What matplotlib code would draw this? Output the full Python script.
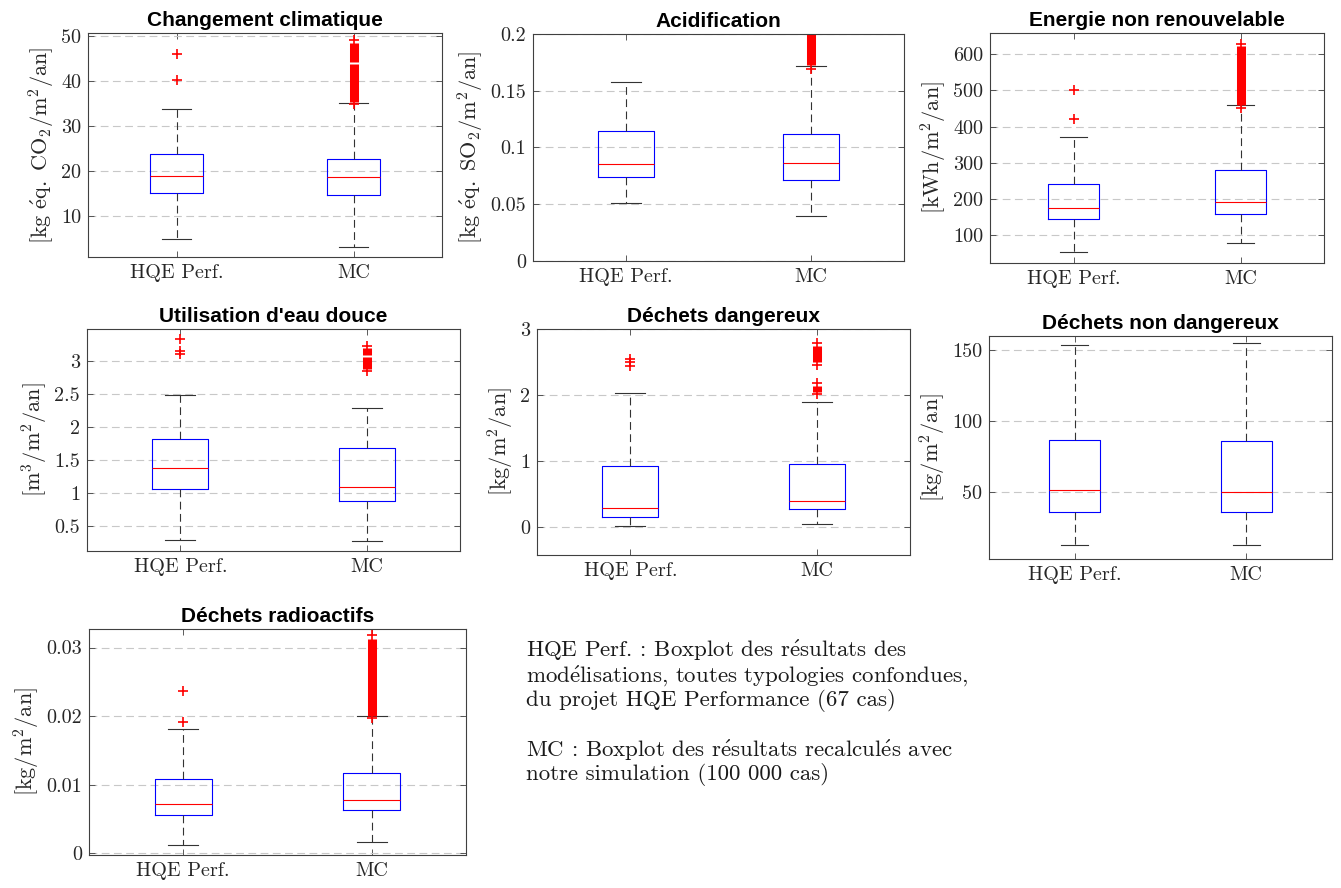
import numpy as np
import matplotlib as mpl
mpl.use('Agg')
import matplotlib.pyplot as plt
from matplotlib.ticker import FuncFormatter

plt.rcParams['font.family'] = 'cmr10'
plt.rcParams['mathtext.fontset'] = 'cm'
plt.rcParams['axes.unicode_minus'] = False

groups = ['HQE Perf.', 'MC']

# stats: whislo, q1, median, q3, whishi
cc_hqe = [4.8, 15.2, 19.0, 23.8, 33.8]
cc_mc = [3.1, 14.6, 18.6, 22.7, 35.1]
cc_hqe_out = [40.3, 46.1]
cc_mc_out = [34.9, 49.1]
cc_mc_bands = [(35.3, 43.7), (44.3, 48.4)]

acid_hqe = [0.0509, 0.0739, 0.0859, 0.1141, 0.1577]
acid_mc = [0.0394, 0.0712, 0.0862, 0.1115, 0.1718]
acid_hqe_out = []
acid_mc_out = [0.1695]
acid_mc_bands = [(0.1725, 0.205)]

enr_hqe = [53, 144, 175.5, 241.7, 372]
enr_mc = [80, 159.8, 192.1, 279.2, 459.5]
enr_hqe_out = [421.7, 500.9]
enr_mc_out = [452, 629]
enr_mc_bands = [(460, 621)]

eau_hqe = [0.282, 1.06, 1.377, 1.816, 2.48]
eau_mc = [0.273, 0.883, 1.095, 1.674, 2.29]
eau_hqe_out = [3.10, 3.15, 3.33]
eau_mc_out = [2.84, 3.22]
eau_mc_bands = [(2.87, 3.05), (3.08, 3.19)]

dd_hqe = [0.015, 0.156, 0.288, 0.924, 2.03]
dd_mc = [0.045, 0.273, 0.398, 0.96, 1.90]
dd_hqe_out = [2.44, 2.50, 2.54]
dd_mc_out = [2.01, 2.18, 2.46, 2.79]
dd_mc_bands = [(2.04, 2.13), (2.50, 2.74)]

dnd_hqe = [12.6, 35.4, 51.2, 86.9, 153.5]
dnd_mc = [12.4, 35.9, 50.0, 85.8, 155.2]
dnd_hqe_out = []
dnd_mc_out = []
dnd_mc_bands = []

rad_hqe = [0.00117, 0.00554, 0.00719, 0.01079, 0.01808]
rad_mc = [0.0016, 0.00632, 0.00773, 0.01176, 0.01998]
rad_hqe_out = [0.0191, 0.02367]
rad_mc_out = [0.0197, 0.0318]
rad_mc_bands = [(0.0200, 0.0313)]

titles = ['Changement climatique', 'Acidification', 'Energie non renouvelable',
          "Utilisation d'eau douce", 'Déchets dangereux', 'Déchets non dangereux',
          'Déchets radioactifs']
ylabels = [r'$\mathrm{[kg\ \acute{e}q.\ CO_2/m^2/an]}$',
           r'$\mathrm{[kg\ \acute{e}q.\ SO_2/m^2/an]}$',
           r'$\mathrm{[kWh/m^2/an]}$',
           r'$\mathrm{[m^3/m^2/an]}$',
           r'$\mathrm{[kg/m^2/an]}$',
           r'$\mathrm{[kg/m^2/an]}$',
           r'$\mathrm{[kg/m^2/an]}$']
yticks = [[10, 20, 30, 40, 50],
          [0, 0.05, 0.1, 0.15, 0.2],
          [100, 200, 300, 400, 500, 600],
          [0.5, 1, 1.5, 2, 2.5, 3],
          [0, 1, 2, 3],
          [50, 100, 150],
          [0, 0.01, 0.02, 0.03]]
ylims = [(0.9, 50.7), (0, 0.2), (24, 658), (0.12, 3.48), (-0.42, 3.0),
         (2.5, 160), (-0.00025, 0.0327)]

note_hqe = ("HQE Perf. : Boxplot des résultats des\n"
            "modélisations, toutes typologies confondues,\n"
            "du projet HQE Performance (67 cas)")
note_mc = ("MC : Boxplot des résultats recalculés avec\n"
           "notre simulation (100 000 cas)")

data = [(cc_hqe, cc_mc, cc_hqe_out, cc_mc_out, cc_mc_bands),
        (acid_hqe, acid_mc, acid_hqe_out, acid_mc_out, acid_mc_bands),
        (enr_hqe, enr_mc, enr_hqe_out, enr_mc_out, enr_mc_bands),
        (eau_hqe, eau_mc, eau_hqe_out, eau_mc_out, eau_mc_bands),
        (dd_hqe, dd_mc, dd_hqe_out, dd_mc_out, dd_mc_bands),
        (dnd_hqe, dnd_mc, dnd_hqe_out, dnd_mc_out, dnd_mc_bands),
        (rad_hqe, rad_mc, rad_hqe_out, rad_mc_out, rad_mc_bands)]

# axes boxes in pixels: left, top, right, bottom
W, H = 1341, 888
boxes = [(88, 33, 442, 257), (533, 34, 904, 261), (990, 33, 1324, 263),
         (87, 329, 460, 551), (537, 329, 910, 555), (989, 336, 1332, 559),
         (89, 629, 466, 855)]

fig = plt.figure(figsize=(W / 100, H / 100), dpi=100)

dash = (0, (7, 4))
for i, (l, t, r, b) in enumerate(boxes):
    ax = fig.add_axes([l / W, 1 - b / H, (r - l) / W, (b - t) / H])
    hqe, mc, out_h, out_m, bands = data[i]
    stats = []
    for s, fl in ((hqe, out_h), (mc, out_m)):
        stats.append(dict(whislo=s[0], q1=s[1], med=s[2], q3=s[3], whishi=s[4], fliers=fl))
    ax.bxp(stats, positions=[1, 2], widths=0.3, capwidths=0.16, manage_ticks=False,
           boxprops=dict(color='blue', lw=0.8),
           medianprops=dict(color='red', lw=0.8),
           whiskerprops=dict(color='#333333', lw=0.8, ls=dash),
           capprops=dict(color='#333333', lw=0.8),
           flierprops=dict(marker='+', markeredgecolor='red', markersize=7,
                           markeredgewidth=1.2, linestyle='none'))
    for lo, hi in bands:
        ax.vlines(2, lo, hi, color='red', lw=6.5)
    ax.set_xlim(0.5, 2.5)
    ax.set_ylim(*ylims[i])
    ax.set_yticks(yticks[i])
    ax.yaxis.set_major_formatter(FuncFormatter(lambda v, p: '%g' % v))
    ax.set_xticks([1, 2])
    ax.set_xticklabels(groups)
    ax.yaxis.grid(True, ls=dash, color='#c8c8c8', lw=0.8)
    ax.set_axisbelow(True)
    ax.tick_params(direction='in', top=True, right=True, length=4, width=0.6,
                   color='#404040', labelcolor='#262626', labelsize=14.5, pad=5)
    for sp in ax.spines.values():
        sp.set_color('#404040')
        sp.set_linewidth(0.8)
    ax.set_ylabel(ylabels[i], fontsize=16, color='#262626', labelpad=3)
    ax.set_title(titles[i], fontfamily='Liberation Sans', fontweight='bold',
                 fontsize=15, pad=5)

for txt, top in ((note_hqe, 638), (note_mc, 738)):
    txt = txt.replace('é', r'$\mathrm{\acute{e}}$')
    fig.text(526 / W, 1 - top / H, txt, ha='left', va='top', fontsize=16.5,
             linespacing=1.02, color='#1a1a1a')

fig.savefig('out.png', dpi=100)
